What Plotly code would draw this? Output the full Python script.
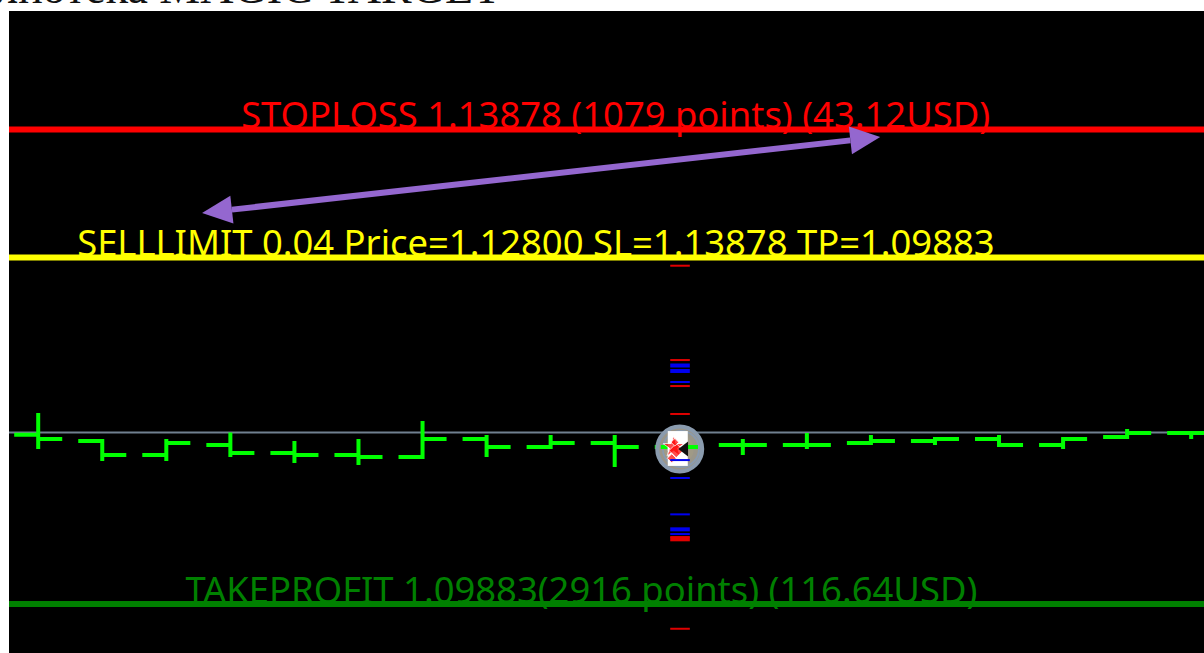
import numpy as np
import plotly.graph_objects as go

# Bars (one per period, x = bar index)
bar_index = list(range(19))
opens  = [1.11308,1.11255,1.11137,1.11222,1.11154,1.11137,1.11121,1.11272,1.11205,1.11238,1.11205,1.11222,1.11222,1.11238,1.11255,1.11272,1.11222,1.11289,1.11323]
highs  = [1.11491,1.11272,1.11272,1.11327,1.11255,1.11272,1.11424,1.11306,1.11306,1.11306,1.11323,1.11272,1.11323,1.11306,1.11289,1.11306,1.11289,1.11356,1.11323]
lows   = [1.11188,1.11087,1.11087,1.11121,1.11070,1.11053,1.11104,1.11121,1.11188,1.11036,1.11087,1.11137,1.11188,1.11222,1.11222,1.11205,1.11188,1.11272,1.11272]
closes = [1.11272,1.11137,1.11238,1.11154,1.11137,1.11121,1.11272,1.11205,1.11238,1.11205,1.11222,1.11222,1.11222,1.11255,1.11272,1.11222,1.11272,1.11323,1.11323]

# Levels
stoploss = 1.13878
sell_price = 1.12800
takeprofit = 1.09883
bid = 1.11327

stoploss_label = "STOPLOSS 1.13878 (1079 points) (43.12USD)"
sell_label = "SELLLIMIT 0.04 Price=1.12800 SL=1.13878 TP=1.09883"
takeprofit_label = "TAKEPROFIT 1.09883(2916 points) (116.64USD)"
title_text = "Библиотека MAGIC TARGET"

# Small dashes on the current bar
red_levels = [1.12731,1.11937,1.11718,1.11483,1.10447,1.10428,1.09675]
red_widths = [2,2,2,2,2,4,2]
blue_levels = [1.11891,1.11845,1.11752,1.11095,1.10944,1.10638,1.10512,1.10472]
blue_widths = [4,4,2,2,2,2,4,2]
dash_x = 10.02

# Double arrow (bar index, price)
arrow_x = [2.558, 13.145]
arrow_y = [1.13175, 1.13814]

# Icon over the current bar
icon_price = 1.11188
white_x = [9.985, 9.985]
white_y = [1.11255, 1.11130]
red_blot_x = [9.92, 9.96, 9.94, 9.89]
red_blot_y = [1.11205, 1.11175, 1.11245, 1.11110]

# Axis windows
x_range = [-0.456, 18.2]
y_range = [1.09471, 1.14875]

W, H = 1204, 653
ML, MT = 9, 11
px_x = (x_range[1] - x_range[0]) / (W - ML)
px_y = (y_range[1] - y_range[0]) / (H - MT)

def head(tip, tail, length=30, half=14):
    tx, ty = tip[0] / px_x, -tip[1] / px_y
    bx, by = tail[0] / px_x, -tail[1] / px_y
    d = np.array([bx - tx, by - ty]); d /= np.hypot(*d)
    n = np.array([-d[1], d[0]])
    base = np.array([tx, ty]) + d * length
    a = base + n * half; b = base - n * half
    xs = [tx, a[0], b[0], tx]; ys = [ty, a[1], b[1], ty]
    centre = (base[0] * px_x, -base[1] * px_y)
    return [v * px_x for v in xs], [-v * px_y for v in ys], centre

fig = go.Figure()

fig.add_trace(go.Ohlc(x=bar_index, open=opens, high=highs, low=lows, close=closes,
                      increasing=dict(line=dict(color="#00ff00", width=4)),
                      decreasing=dict(line=dict(color="#00ff00", width=4)),
                      tickwidth=0.375, hoverinfo="skip"))

# Blob behind the icon
blob = go.Scatter(x=[10.015, 10.035, 10.0], y=[icon_price]*3, mode="markers", hoverinfo="skip",
                  marker=dict(symbol="circle", size=[45, 36, 30], color=["#9a968a", "#9a968a", "#a09a86"],
                              opacity=1, line=dict(color="#8a9bae", width=[4, 2, 0])))
fig.add_trace(blob)
fig.add_trace(go.Scatter(x=[9.72, 10.02, 10.30], y=[1.11205]*3, mode="lines", hoverinfo="skip",
                         line=dict(color="#00ff00", width=4)))
fig.add_trace(go.Scatter(x=white_x, y=white_y, mode="markers", hoverinfo="skip",
                         marker=dict(symbol="square", size=20, color="#ffffff")))
fig.add_trace(go.Scatter(x=red_blot_x, y=red_blot_y, mode="markers", hoverinfo="skip",
                         marker=dict(symbol=["star", "diamond", "diamond", "diamond"], size=[16, 11, 6, 7], color="#ff0000")))
fig.add_trace(go.Scatter(x=[10.095], y=[icon_price], mode="markers", hoverinfo="skip",
                         marker=dict(symbol="triangle-left", size=13, color="#111111")))

fig.add_trace(go.Scatter(x=[dash_x]*len(red_levels), y=red_levels, mode="markers", hoverinfo="skip",
                         marker=dict(symbol="line-ew", size=14, line=dict(color="#e00000", width=red_widths))))
fig.add_trace(go.Scatter(x=[dash_x]*len(blue_levels), y=blue_levels, mode="markers", hoverinfo="skip",
                         marker=dict(symbol="line-ew", size=14, line=dict(color="#0000f0", width=blue_widths))))

# Level labels
font = "Noto Sans"
for label, xc, level, color in [(stoploss_label, 9.015, stoploss - 0.00065, "#ff0000"),
                                (sell_label, 7.77, sell_price - 0.00065, "#ffff00"),
                                (takeprofit_label, 8.48, takeprofit - 0.00065, "#008000")]:
    fig.add_trace(go.Scatter(x=[xc], y=[level], mode="text", text=[label], textposition="top center",
                             hoverinfo="skip", cliponaxis=False,
                             textfont=dict(family=font, size=36.4, color=color)))

shapes = [dict(type="line", xref="paper", x0=0, x1=1, yref="y", y0=bid, y1=bid, layer="below",
               line=dict(color="#708090", width=2))]
for level, color in [(stoploss, "#ff0000"), (sell_price, "#ffff00"), (takeprofit, "#008000")]:
    shapes.append(dict(type="line", xref="paper", x0=0, x1=1, yref="y", y0=level, y1=level, layer="below",
                       line=dict(color=color, width=6)))

# Double arrow
hx0, hy0, c0 = head((arrow_x[0], arrow_y[0]), (arrow_x[1], arrow_y[1]))
hx1, hy1, c1 = head((arrow_x[1], arrow_y[1]), (arrow_x[0], arrow_y[0]))
fig.add_trace(go.Scatter(x=[c0[0], c1[0]], y=[c0[1], c1[1]], mode="lines", hoverinfo="skip",
                         line=dict(color="#9467cf", width=6)))
for hx, hy in [(hx0, hy0), (hx1, hy1)]:
    fig.add_trace(go.Scatter(x=hx, y=hy, mode="lines", fill="toself", fillcolor="#9467cf",
                             line=dict(color="#9467cf", width=0), hoverinfo="skip"))

fig.update_layout(
    width=W, height=H, autosize=False,
    margin=dict(l=ML, r=0, t=MT, b=0, pad=0),
    paper_bgcolor="#ffffff", plot_bgcolor="#000000",
    showlegend=False, shapes=shapes,
    xaxis=dict(range=x_range, visible=False, rangeslider=dict(visible=False), fixedrange=True),
    yaxis=dict(range=y_range, visible=False, fixedrange=True),
    annotations=[dict(text=title_text, xref="paper", yref="paper", x=0.4134, y=1, xanchor="right",
                      yanchor="bottom", yshift=-4, showarrow=False,
                      font=dict(family="Liberation Serif", size=46, color="#111111"))],
)

fig.write_html("out.html", config=dict(displayModeBar=False),
               post_script="document.body.style.margin='0';document.body.style.overflow='hidden';")
